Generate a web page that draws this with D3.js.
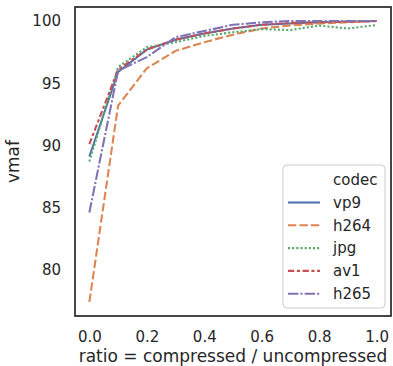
<!DOCTYPE html>
<html>
<head>
<meta charset="utf-8">
<script src="https://cdn.jsdelivr.net/npm/d3@7"></script>
<style>
  body { margin: 0; background: #fff; }
  svg { display: block; font-family: "DejaVu Sans", sans-serif; }
</style>
</head>
<body>
<div id="chart"></div>
<script>
// vmaf vs compression ratio, one line per codec

const ratios = [0.0, 0.1, 0.2, 0.3, 0.4, 0.5, 0.6, 0.7, 0.8, 0.9, 1.0];
const codecs = ['vp9', 'h264', 'jpg', 'av1', 'h265'];
const vp9  = [89.1, 95.9, 97.7, 98.5, 99.0, 99.4, 99.7, 99.8, 99.9, 99.95, 100.0];
const h264 = [77.4, 93.2, 96.2, 97.6, 98.3, 98.9, 99.4, 99.65, 99.8, 99.9, 100.0];
const jpg  = [88.7, 96.3, 97.9, 98.3, 98.8, 99.1, 99.35, 99.28, 99.63, 99.4, 99.67];
const av1  = [90.1, 96.1, 97.7, 98.5, 99.0, 99.4, 99.7, 99.85, 99.9, 99.95, 100.0];
const h265 = [84.6, 96.0, 97.1, 98.7, 99.2, 99.7, 99.9, 100.0, 100.0, 100.0, 100.0];
const xTicks = [0.0, 0.2, 0.4, 0.6, 0.8, 1.0];
const yTicks = [80, 85, 90, 95, 100];

const seriesValues = { vp9, h264, jpg, av1, h265 };

// seaborn "deep" palette and default dash patterns
const colorScale = d3.scaleOrdinal()
    .domain(codecs)
    .range(['#4c72b0', '#dd8452', '#55a868', '#c44e52', '#8172b3']);
const lw = 2.08;
const dashes = {
    vp9: null,
    h264: [4, 1.5],
    jpg: [1, 1],
    av1: [3, 1.25, 1.5, 1.25],
    h265: [5, 1, 1, 1]
};

const margin = { top: 7, right: 2, bottom: 50, left: 75 };
const width = 393 - margin.left - margin.right;
const height = 366 - margin.top - margin.bottom;

const svg = d3.select('#chart')
    .append('svg')
    .attr('width', 393)
    .attr('height', 366);

const g = svg.append('g')
    .attr('transform', `translate(${margin.left}, ${margin.top})`);

// matplotlib style 5% padding on both axes
const allY = codecs.flatMap(c => seriesValues[c]);
const [yMin, yMax] = d3.extent(allY);
const yPad = (yMax - yMin) * 0.05;
const xPad = (d3.max(ratios) - d3.min(ratios)) * 0.05;

const x = d3.scaleLinear()
    .domain([d3.min(ratios) - xPad, d3.max(ratios) + xPad])
    .range([0, width]);
const y = d3.scaleLinear()
    .domain([yMin - yPad, yMax + yPad])
    .range([height, 0]);

const textColor = '#262626';

// axes without tick marks (seaborn white style)
const xAxis = g.append('g')
    .attr('transform', `translate(0, ${height})`)
    .call(d3.axisBottom(x).tickValues(xTicks).tickFormat(d3.format('.1f')).tickSize(0).tickPadding(15));
const yAxis = g.append('g')
    .call(d3.axisLeft(y).tickValues(yTicks).tickSize(0).tickPadding(14));

[xAxis, yAxis].forEach(ax => {
    ax.select('.domain').remove();
    ax.selectAll('text')
        .attr('fill', textColor)
        .style('font-size', '15px')
        .style('font-family', '"DejaVu Sans", sans-serif');
});

// lines
const line = d3.line()
    .x((d, i) => x(ratios[i]))
    .y(d => y(d));

codecs.forEach(c => {
    g.append('path')
        .datum(seriesValues[c])
        .attr('fill', 'none')
        .attr('stroke', colorScale(c))
        .attr('stroke-width', lw)
        .attr('stroke-dasharray', dashes[c] ? dashes[c].map(v => v * lw).join(',') : null)
        .attr('d', line);
});

// frame
g.append('rect')
    .attr('width', width)
    .attr('height', height)
    .attr('fill', 'none')
    .attr('stroke', textColor)
    .attr('stroke-width', 1.7);

// axis labels
g.append('text')
    .attr('x', width / 2)
    .attr('y', height + 46)
    .attr('text-anchor', 'middle')
    .attr('fill', textColor)
    .style('font-size', '17px')
    .text('ratio = compressed / uncompressed');

g.append('text')
    .attr('transform', `translate(${-56}, ${height / 2}) rotate(-90)`)
    .attr('text-anchor', 'middle')
    .attr('fill', textColor)
    .style('font-size', '17px')
    .text('vmaf');

// legend
const legend = svg.append('g')
    .attr('transform', 'translate(283, 165)');

legend.append('rect')
    .attr('width', 102)
    .attr('height', 143)
    .attr('rx', 4)
    .attr('fill', '#fff')
    .attr('fill-opacity', 0.8)
    .attr('stroke', '#cccccc')
    .attr('stroke-width', 1);

legend.append('text')
    .attr('x', 50)
    .attr('y', 15)
    .attr('dy', '0.35em')
    .attr('fill', textColor)
    .style('font-size', '15px')
    .text('codec');

const items = legend.selectAll('.legend-item')
    .data(codecs)
    .enter()
    .append('g')
    .attr('class', 'legend-item')
    .attr('transform', (d, i) => `translate(0, ${37.5 + i * 22.8})`);

items.append('line')
    .attr('x1', 5)
    .attr('x2', 37)
    .attr('stroke', d => colorScale(d))
    .attr('stroke-width', lw)
    .attr('stroke-dasharray', d => dashes[d] ? dashes[d].map(v => v * lw).join(',') : null);

items.append('text')
    .attr('x', 50)
    .attr('dy', '0.35em')
    .attr('fill', textColor)
    .style('font-size', '15px')
    .text(d => d);
</script>
</body>
</html>
